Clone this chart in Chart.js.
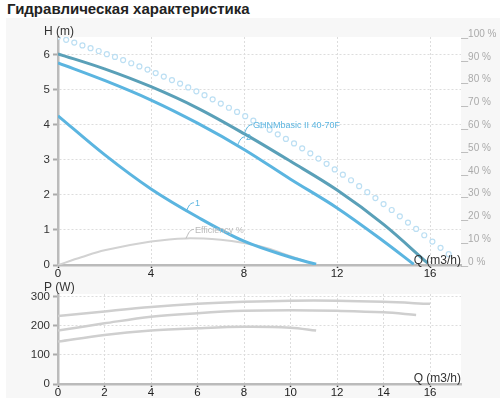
<!DOCTYPE html>
<html>
<head>
<meta charset="utf-8">
<script src="https://cdn.jsdelivr.net/npm/chart.js@4.4.1/dist/chart.umd.min.js"></script>
<style>
  body { margin: 0; background: #fff; font-family: "Liberation Sans", Arial, sans-serif; }
  #wrap { position: relative; width: 500px; height: 400px; overflow: hidden; }
  #title { position: absolute; left: 7px; top: 0; font-size: 15px; font-weight: bold; color: #222; }
  #box { position: absolute; left: 6px; top: 18px; width: 494px; height: 380px; background: #f7f7f7; }
  canvas { position: absolute; left: 0; }
  #hChart { top: 20px; }
  #pChart { top: 282px; }
</style>
</head>
<body>
<div id="wrap">
  <div id="title">Гидравлическая характеристика</div>
  <div id="box"></div>
  <canvas id="hChart" width="500" height="262"></canvas>
  <canvas id="pChart" width="500" height="118"></canvas>
</div>
<script>
// --- ticks ---
const qTicksH = [0, 4, 8, 12, 16];
const qTicksP = [0, 2, 4, 6, 8, 10, 12, 14, 16];
const hTicks = [0, 1, 2, 3, 4, 5, 6];
const pctTicks = [0, 10, 20, 30, 40, 50, 60, 70, 80, 90, 100];
const pTicks = [0, 100, 200, 300];

// --- H(Q) curves ---
const qMax = [0, 2, 4, 6, 8, 10, 12, 14, 15.9];
const hMax = [6.03, 5.6, 5.09, 4.48, 3.75, 2.96, 2.14, 1.16, 0.05];
const qMid = [0, 2, 4, 6, 8, 10, 12, 14, 15.3];
const hMid = [5.77, 5.27, 4.71, 4.05, 3.3, 2.45, 1.63, 0.68, 0.02];
const qMin = [0, 2, 4, 6, 8, 10, 11.1];
const hMin = [4.26, 3.15, 2.17, 1.37, 0.68, 0.22, 0.02];
const qEff = [0, 1, 2, 4, 5.5, 7, 8, 9, 10, 11];
const hEff = [0, 0.22, 0.42, 0.67, 0.76, 0.72, 0.63, 0.48, 0.25, 0.03];

// dotted curve (circles)
const qDots = [0, 0.35, 0.7, 1.05, 1.4, 1.75, 2.1, 2.45, 2.8, 3.15, 3.5, 3.85, 4.2, 4.55, 4.9, 5.25,
  5.6, 5.95, 6.3, 6.65, 7, 7.35, 7.7, 8.05, 8.4, 8.75, 9.1, 9.45, 9.8, 10.15, 10.5, 10.85, 11.2,
  11.55, 11.9, 12.25, 12.6, 12.95, 13.3, 13.65, 14, 14.35, 14.7, 15.05, 15.4, 15.75, 16.1, 16.45, 16.8];
const hDots = [6.51, 6.43, 6.35, 6.27, 6.19, 6.11, 6.02, 5.94, 5.85, 5.76, 5.67, 5.58, 5.48, 5.38, 5.28, 5.18,
  5.07, 4.96, 4.85, 4.73, 4.61, 4.49, 4.37, 4.25, 4.12, 3.99, 3.86, 3.73, 3.6, 3.47, 3.33, 3.19, 3.04,
  2.89, 2.73, 2.58, 2.42, 2.25, 2.08, 1.91, 1.74, 1.57, 1.39, 1.21, 1.03, 0.85, 0.67, 0.49, 0.31];

// --- P(Q) curves ---
const qP1 = [0, 2, 4, 6, 8, 10, 12, 14, 16];
const p1 = [234, 250, 265, 276, 283, 287, 287, 283, 276];
const qP2 = [0, 2, 4, 6, 8, 10, 12, 14, 15.4];
const p2 = [184, 209, 232, 244, 252, 254, 252, 247, 238];
const qP3 = [0, 2, 4, 6, 8, 10, 11.1];
const p3 = [146, 169, 184, 192, 197, 194, 184];

const FONT = '"Liberation Sans", Arial, sans-serif';
const DARK = '#5aa0b8';
const BLUE = '#5bb5e0';
const GREY = '#cfcfcf';

const pts = (xs, ys) => xs.map((x, i) => ({ x: x, y: ys[i] }));
const setTicks = arr => scale => { scale.ticks = arr.map(v => ({ value: v })); };

// white plot area + axis titles
const frame = {
  id: 'frame',
  beforeDraw(chart) {
    const a = chart.chartArea, ctx = chart.ctx;
    ctx.save();
    ctx.fillStyle = '#fff';
    ctx.fillRect(a.left, a.top, a.right - a.left, a.bottom - a.top);
    ctx.restore();
  },
  afterDraw(chart, args, opts) {
    const a = chart.chartArea, ctx = chart.ctx;
    ctx.save();
    ctx.font = '12px ' + FONT;
    ctx.fillStyle = '#333';
    ctx.textBaseline = 'middle';
    ctx.textAlign = 'left';
    ctx.fillText(opts.yTitle, 44, a.top + opts.yTitleDy);
    ctx.textAlign = 'right';
    ctx.fillText('Q (m3/h)', a.right, a.bottom + opts.xTitleDy);
    ctx.restore();
  }
};

// series labels with small leader lines
const seriesLabels = [
  { text: 'GHNMbasic II 40-70F', q: 8.0, h: 3.75, color: BLUE },
  { text: '2', q: 7.7, h: 3.4, color: BLUE },
  { text: '1', q: 5.5, h: 1.52, color: BLUE },
  { text: 'Efficiency %', q: 5.5, h: 0.76, color: '#bbb' }
];

const tags = {
  id: 'tags',
  afterDatasetsDraw(chart) {
    const ctx = chart.ctx, sx = chart.scales.x, sy = chart.scales.y;
    ctx.save();
    ctx.font = '9px ' + FONT;
    ctx.textBaseline = 'middle';
    ctx.lineWidth = 1;
    seriesLabels.forEach(l => {
      const ax = sx.getPixelForValue(l.q), ay = sy.getPixelForValue(l.h);
      ctx.strokeStyle = l.color;
      ctx.beginPath();
      ctx.moveTo(ax, ay);
      ctx.bezierCurveTo(ax + 2, ay - 3, ax + 3, ay - 9, ax + 8, ay - 9);
      ctx.stroke();
      ctx.fillStyle = l.color;
      ctx.fillText(l.text, ax + 9, ay - 8);
    });
    ctx.restore();
  }
};

const lineDs = (data, color, width) => ({
  data: data, borderColor: color, borderWidth: width, pointRadius: 0,
  fill: false, tension: 0.35
});

const xAxis = (ticks, h) => ({
  type: 'linear', min: 0, max: 17.33,
  afterBuildTicks: setTicks(ticks),
  afterFit: s => { s.height = h; },
  grid: { color: '#ddd', lineWidth: 1, tickColor: '#333', tickLength: 3, tickWidth: 1.5 },
  border: { color: '#bbb', width: 2.5, dash: [2, 2] },
  ticks: { padding: -1, color: '#222', font: { size: 11.5, family: FONT }, maxRotation: 0 }
});

const yAxis = (ticks, max) => ({
  type: 'linear', min: 0, max: max,
  afterBuildTicks: setTicks(ticks),
  afterFit: s => { s.width = 58; },
  grid: { color: '#ddd', lineWidth: 1, tickColor: '#aaa', tickLength: 5, tickWidth: 2 },
  border: { color: '#bbb', width: 2.5, dash: [2, 2] },
  ticks: { padding: 3, color: '#333', font: { size: 11.5, family: FONT } }
});

const baseOpts = {
  responsive: false,
  animation: false,
  plugins: { legend: { display: false }, tooltip: { enabled: false } }
};

new Chart(document.getElementById('hChart'), {
  type: 'line',
  data: {
    datasets: [
      lineDs(pts(qMax, hMax), DARK, 3),
      lineDs(pts(qMid, hMid), BLUE, 3),
      lineDs(pts(qMin, hMin), BLUE, 3),
      lineDs(pts(qEff, hEff), '#d2d2d2', 2),
      {
        data: pts(qDots, hDots), showLine: false, pointRadius: 2.5, pointBorderWidth: 1.2,
        pointBorderColor: '#bcdff3', pointBackgroundColor: '#fff'
      }
    ]
  },
  options: Object.assign({}, baseOpts, {
    layout: { padding: { top: 17, left: 0, right: 0, bottom: 0 } },
    scales: {
      x: xAxis(qTicksH, 17),
      y: yAxis(hTicks, 6.51),
      y2: {
        type: 'linear', position: 'right', min: 0, max: 100,
        afterBuildTicks: setTicks(pctTicks),
        afterFit: s => { s.width = 39; },
        grid: { display: false, drawTicks: false },
        border: { display: false },
        ticks: {
          padding: -4, labelOffset: -3, color: '#aaa', font: { size: 10, family: FONT },
          callback: v => '__' + v + ' %'
        }
      }
    },
    plugins: Object.assign({}, baseOpts.plugins, { frame: { yTitle: 'H (m)', yTitleDy: -5, xTitleDy: -4 } })
  }),
  plugins: [frame, tags]
});

new Chart(document.getElementById('pChart'), {
  type: 'line',
  data: {
    datasets: [
      lineDs(pts(qP1, p1), GREY, 2.5),
      lineDs(pts(qP2, p2), GREY, 2.5),
      lineDs(pts(qP3, p3), GREY, 2.5)
    ]
  },
  options: Object.assign({}, baseOpts, {
    layout: { padding: { top: 12, left: 0, right: 39, bottom: 0 } },
    scales: {
      x: xAxis(qTicksP, 16),
      y: yAxis(pTicks, 310)
    },
    plugins: Object.assign({}, baseOpts.plugins, { frame: { yTitle: 'P (W)', yTitleDy: -6, xTitleDy: -5 } })
  }),
  plugins: [frame]
});
</script>
</body>
</html>
